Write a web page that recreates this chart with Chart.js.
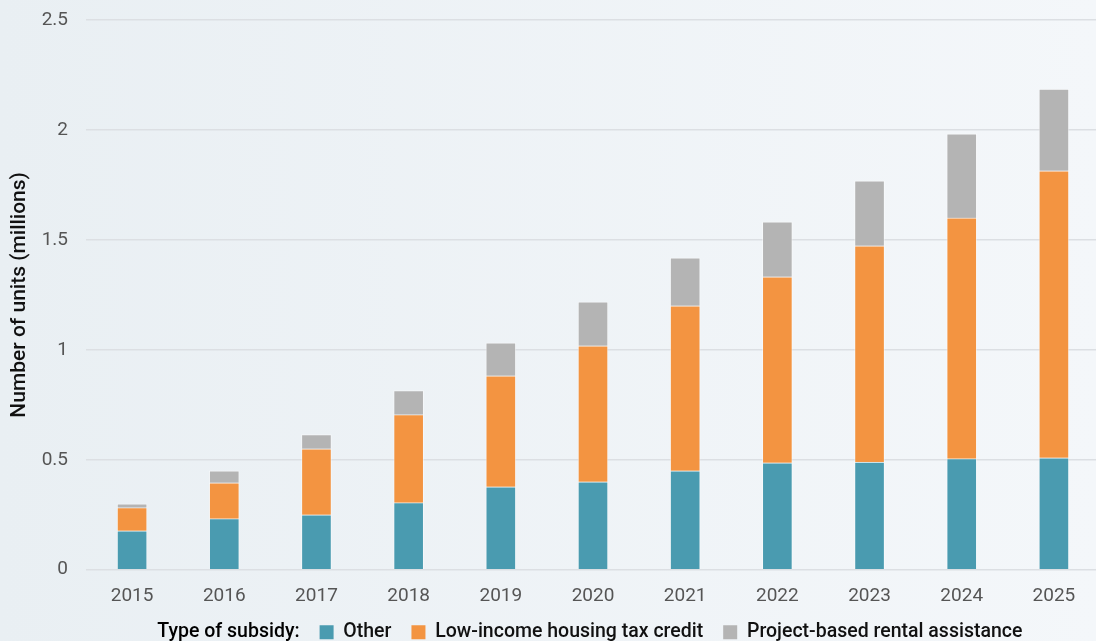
<!DOCTYPE html>
<html><head><meta charset="utf-8">
<script src="https://cdn.jsdelivr.net/npm/chart.js@4"></script>
<style>
html,body{margin:0;padding:0;overflow:hidden;width:1096px;height:641px;}
body{background:linear-gradient(to right,#e9eff3,#f4f7fa);}
#wrap{width:1100px;height:641px;}
</style></head><body>
<div id="wrap"><canvas id="c" width="1100" height="641"></canvas></div>
<script>
const years = ['2015','2016','2017','2018','2019','2020','2021','2022','2023','2024','2025'];
const other = [0.177,0.232,0.25,0.305,0.377,0.40,0.45,0.486,0.49,0.505,0.509];
const lihtc = [0.105,0.163,0.30,0.40,0.505,0.618,0.75,0.846,0.983,1.095,1.305];
const pbra  = [0.018,0.055,0.064,0.11,0.15,0.20,0.218,0.25,0.295,0.382,0.372];
const yTicks = [0,0.5,1,1.5,2,2.5];
const legendPrefix = 'Type of subsidy:';

const font = 'Roboto, "Noto Sans", sans-serif';
const shiftLegend = {
  id:'shiftLegend',
  afterLayout(chart){ const l = chart.legend; if(l){ l.left -= 15; l.right -= 15; } }
};
new Chart(document.getElementById('c'), {
  type: 'bar',
  data: {
    labels: years,
    datasets: [
      {label:'Other', data: other, backgroundColor:'#4a9bb0'},
      {label:'Low-income housing tax credit', data: lihtc, backgroundColor:'#f39441'},
      {label:'Project-based rental assistance', data: pbra, backgroundColor:'#b4b4b4'}
    ].map(d => Object.assign(d, {borderColor:'rgba(255,255,255,0.45)', borderWidth:1, barThickness:30}))
  },
  plugins:[shiftLegend],
  options: {
    responsive:false, animation:false,
    layout:{padding:{top:20,left:7,right:0,bottom:-11}},
    scales:{
      x:{stacked:true, grid:{display:false, drawTicks:false}, border:{display:false},
         afterFit: ax => { ax.height -= 20; },
         ticks:{color:'#555', font:{family:font,size:19}, padding:15}},
      y:{stacked:true, min:0, max:2.5,
         afterBuildTicks: ax => { ax.ticks = yTicks.map(v => ({value:v})); },
         afterFit: ax => { ax.width = 79; ax.paddingTop = 0; },
         grid:{color:'#dcdfe3', lineWidth:1.5, drawTicks:false},
         border:{display:false},
         ticks:{color:'#555', font:{family:font,size:19}, padding:18, callback: v => String(v)},
         title:{display:true, text:'Number of units (millions)', color:'#111',
                font:{family:font,size:21,weight:'500'}, padding:{top:0,bottom:0}}}
    },
    plugins:{
      tooltip:{enabled:false},
      legend:{position:'bottom', fullSize:false,
        labels:{boxWidth:14, boxHeight:14, padding:20, color:'#111',
          font:{family:font,size:19.5,weight:'500'},
          generateLabels: chart => {
            const items = Chart.defaults.plugins.legend.labels.generateLabels(chart);
            items.forEach(i => { i.lineWidth = 0; i.strokeStyle = 'rgba(0,0,0,0)'; });
            return [{text:legendPrefix, fillStyle:'rgba(0,0,0,0)', strokeStyle:'rgba(0,0,0,0)', lineWidth:0, hidden:false, datasetIndex:-1}].concat(items);
          }
        }
      }
    }
  }
});
</script>
</body></html>
